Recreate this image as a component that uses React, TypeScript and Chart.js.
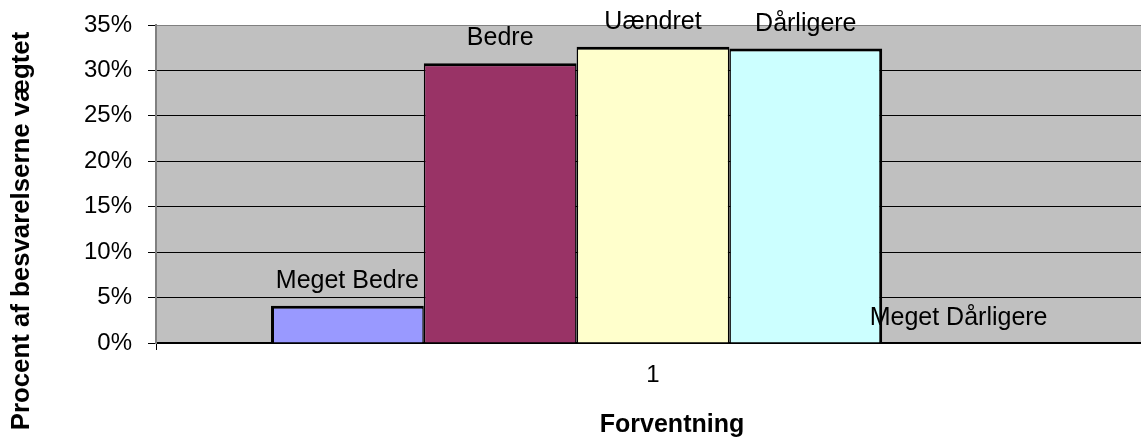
import React, { useEffect, useRef } from "react";
import { Chart, registerables } from "chart.js";

Chart.register(...registerables);

const categories = ["1"];
const seriesNames = ["Meget Bedre", "Bedre", "Uændret", "Dårligere", "Meget Dårligere"];
const seriesValues = [4.1, 30.8, 32.6, 32.4, 0];
const seriesColors = ["#9999FF", "#993366", "#FFFFCC", "#CCFFFF", "#660066"];
const yTickValues = [0, 5, 10, 15, 20, 25, 30, 35];
const yTitle = "Procent af besvarelserne vægtet";
const xTitle = "Forventning";

const FONT = "'Liberation Sans', Arial, sans-serif";

const bgPlugin = {
  id: "plotBg",
  beforeDraw(chart: any) {
    const { ctx, chartArea } = chart;
    ctx.save();
    ctx.fillStyle = "#C0C0C0";
    ctx.fillRect(chartArea.left, chartArea.top, chartArea.right - chartArea.left, chartArea.bottom - chartArea.top);
    ctx.restore();
  },
};

const labelPlugin = {
  id: "seriesLabels",
  afterDatasetsDraw(chart: any) {
    const { ctx } = chart;
    ctx.save();
    ctx.font = `25px ${FONT}`;
    ctx.fillStyle = "#000";
    ctx.textAlign = "center";
    ctx.textBaseline = "alphabetic";
    chart.data.datasets.forEach((ds: any, i: number) => {
      const meta = chart.getDatasetMeta(i);
      meta.data.forEach((el: any) => {
        ctx.fillText(ds.label, el.x, el.y - 18);
      });
    });
    ctx.restore();
  },
};

const titlePlugin = {
  id: "axisTitles",
  afterDraw(chart: any) {
    const { ctx } = chart;
    ctx.save();
    ctx.fillStyle = "#000";
    ctx.textAlign = "center";
    ctx.textBaseline = "middle";
    ctx.font = `bold 25px ${FONT}`;
    ctx.fillText(xTitle, 672, 425);
    ctx.font = `bold 25.8px ${FONT}`;
    ctx.translate(22, 231);
    ctx.rotate(-Math.PI / 2);
    ctx.fillText(yTitle, 0, 0);
    ctx.restore();
  },
};

export default function App() {
  const ref = useRef<HTMLCanvasElement | null>(null);
  useEffect(() => {
    if (!ref.current) return;
    const n = seriesNames.length;
    const datasets = seriesNames.map((name, i) => ({
      label: name,
      data: [seriesValues[i]],
      backgroundColor: seriesColors[i],
      borderColor: "#000",
      borderWidth: {
        top: 3,
        bottom: 0,
        left: i === 0 ? 3 : 1.5,
        right: i === n - 2 ? 3 : 1.5,
      },
      borderSkipped: false as any,
      barPercentage: 1,
      categoryPercentage: 0.7686,
    }));
    const chart = new Chart(ref.current, {
      type: "bar",
      data: { labels: categories, datasets },
      plugins: [bgPlugin, labelPlugin, titlePlugin],
      options: {
        animation: false,
        responsive: false,
        devicePixelRatio: 1,
        layout: { padding: { top: 25, left: 0, right: 0, bottom: 0 } },
        plugins: { legend: { display: false }, tooltip: { enabled: false } },
        scales: {
          x: {
            offset: true,
            grid: {
              display: true,
              offset: true,
              drawOnChartArea: false,
              drawTicks: true,
              tickLength: 7,
              color: "#000",
              tickColor: "#000",
            },
            border: { display: true, color: "#000", width: 2 },
            ticks: { color: "#000", font: { family: FONT, size: 24 }, padding: 11 },
            afterFit(scale: any) {
              scale.height = 96;
              scale.paddingLeft = 0;
              scale.paddingRight = 0;
            },
          },
          y: {
            min: 0,
            max: 35,
            afterBuildTicks(scale: any) {
              scale.ticks = yTickValues.map((v) => ({ value: v }));
            },
            grid: {
              color: (c: any) => (c.tick && c.tick.value === 35 ? "#808080" : "#000"),
              tickColor: "#000",
              tickLength: 8,
              lineWidth: 1,
            },
            border: { display: true, color: "#808080", width: 2 },
            ticks: {
              color: "#000",
              font: { family: FONT, size: 24 },
              padding: 16,
              callback: (v: any) => `${v}%`,
            },
            afterFit(scale: any) {
              scale.width = 156;
              scale.paddingTop = 0;
              scale.paddingBottom = 0;
            },
          },
        },
      },
    });
    return () => chart.destroy();
  }, []);
  return (
    <div
      style={{
        position: "absolute",
        left: 0,
        top: 0,
        width: 1141,
        height: 439,
        overflow: "hidden",
        background: "#fff",
      }}
    >
      <canvas ref={ref} width={1150} height={439} style={{ width: 1150, height: 439, display: "block" }} />
    </div>
  );
}
